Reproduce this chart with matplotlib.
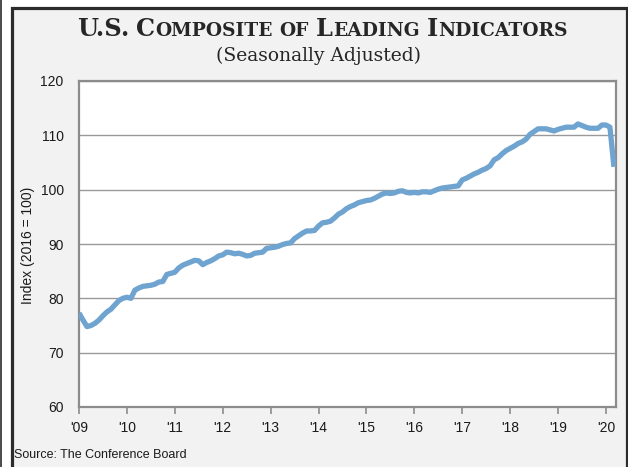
import matplotlib
matplotlib.use("Agg")
import matplotlib.pyplot as plt
from matplotlib.patches import Rectangle
from matplotlib.lines import Line2D
import numpy as np

# ---- data (monthly, Jan 2009 - Mar 2020) ----
start_year = 2009
lei_2009 = [77.3, 76.0, 74.8, 75.0, 75.4, 76.0, 76.8, 77.5, 78.0, 78.8, 79.6, 80.0]
lei_2010 = [80.2, 80.0, 81.5, 81.9, 82.2, 82.3, 82.4, 82.6, 83.0, 83.1, 84.4, 84.6]
lei_2011 = [84.8, 85.6, 86.1, 86.4, 86.7, 87.0, 86.9, 86.2, 86.6, 86.9, 87.3, 87.8]
lei_2012 = [88.0, 88.5, 88.4, 88.2, 88.3, 88.1, 87.8, 87.9, 88.3, 88.4, 88.5, 89.2]
lei_2013 = [89.3, 89.4, 89.6, 89.9, 90.1, 90.2, 91.0, 91.5, 92.0, 92.4, 92.4, 92.5]
lei_2014 = [93.3, 93.9, 94.0, 94.2, 94.8, 95.5, 95.9, 96.5, 96.9, 97.2, 97.6, 97.8]
lei_2015 = [98.0, 98.1, 98.4, 98.8, 99.2, 99.4, 99.3, 99.4, 99.7, 99.8, 99.5, 99.4]
lei_2016 = [99.5, 99.4, 99.6, 99.6, 99.5, 99.8, 100.1, 100.3, 100.4, 100.5, 100.6, 100.7]
lei_2017 = [101.8, 102.1, 102.5, 102.9, 103.2, 103.6, 103.9, 104.4, 105.5, 105.9, 106.6, 107.2]
lei_2018 = [107.6, 108.0, 108.5, 108.8, 109.3, 110.2, 110.7, 111.2, 111.2, 111.2, 111.0, 110.8]
lei_2019 = [111.1, 111.3, 111.5, 111.5, 111.5, 112.1, 111.8, 111.5, 111.3, 111.3, 111.3, 111.9]
lei_2020 = [111.9, 111.5, 104.2]

year_ticks = list(range(2009, 2021))
year_labels = ["'09", "'10", "'11", "'12", "'13", "'14", "'15", "'16", "'17", "'18", "'19", "'20"]
y_ticks = [60, 70, 80, 90, 100, 110, 120]

values = (lei_2009 + lei_2010 + lei_2011 + lei_2012 + lei_2013 + lei_2014 +
          lei_2015 + lei_2016 + lei_2017 + lei_2018 + lei_2019 + lei_2020)
months = start_year + np.arange(len(values)) / 12.0

W, H = 628, 467
fig = plt.figure(figsize=(W / 100, H / 100), dpi=100)
fig.patch.set_facecolor("white")

# panel frame
fig.patches.append(Rectangle((11.5 / W, -0.05), (626.5 - 11.5) / W, 1.05 - 8.5 / H,
                             transform=fig.transFigure, facecolor="#f2f2f2",
                             edgecolor="#2b2b2b", linewidth=2.3, zorder=-5))
fig.add_artist(Line2D([0.8 / W, 0.8 / W], [0, 1], transform=fig.transFigure,
                      color="#2b2b2b", linewidth=1.2, zorder=-4))

ax = fig.add_axes([79 / W, 1 - 407 / H, (616 - 79) / W, (407 - 81) / H])
ax.set_zorder(1)
ax.set_facecolor("white")
ax.plot(months, values, color="#6fa3d0", linewidth=3.8, solid_capstyle="butt",
        solid_joinstyle="round", zorder=3)

ax.set_xlim(2009, 2020.21)
ax.set_ylim(60, 120)
ax.set_yticks(y_ticks)
ax.set_yticklabels([str(v) for v in y_ticks])
ax.set_xticks(year_ticks)
ax.set_xticklabels(year_labels)
ax.grid(axis="y", color="#999999", linewidth=1.0)
ax.set_axisbelow(True)
for s in ax.spines.values():
    s.set_color("#8c8c8c")
    s.set_linewidth(1.6)
ax.tick_params(axis="y", length=0, pad=11, labelsize=10, labelcolor="#1a1a1a")
ax.tick_params(axis="x", length=5, width=1.2, color="#8c8c8c", pad=5,
               labelsize=10, labelcolor="#1a1a1a")
for lbl in ax.get_xticklabels() + ax.get_yticklabels():
    lbl.set_fontfamily("Liberation Sans")

fig.text(28 / W, 1 - 245 / H, "Index (2016 = 100)", rotation=90, ha="center",
         va="center", fontsize=10, fontfamily="Liberation Sans", color="#1a1a1a")
fig.text(14 / W, 1 - 455 / H, "Source: The Conference Board", ha="left",
         va="center", fontsize=9, fontfamily="Liberation Sans", color="#1a1a1a")

# title in small caps
renderer = fig.canvas.get_renderer()
big, small = 17.3, 13.4
pieces = [("U.S.", big, 1), ("C", big, 0), ("OMPOSITE", small, 1), ("OF", small, 1),
          ("L", big, 0), ("EADING", small, 1), ("I", big, 0), ("NDICATORS", small, 0)]
tprops = dict(fontfamily="DejaVu Serif", fontweight="bold", color="#262626")
space_px = 7
texts = []
x = 0.0
for txt, size, gap in pieces:
    t = fig.text(0, 1 - 36 / H, txt, fontsize=size, ha="left", va="baseline", **tprops)
    w = t.get_window_extent(renderer).width
    texts.append((t, x))
    x += w + gap * space_px
total = x
x0 = 322 - total / 2
for t, off in texts:
    t.set_x((x0 + off) / W)

fig.text(318 / W, 1 - 61 / H, "(Seasonally Adjusted)", ha="center", va="baseline",
         fontsize=13.5, fontfamily="DejaVu Serif", color="#262626")

fig.savefig("out.png", dpi=100)
